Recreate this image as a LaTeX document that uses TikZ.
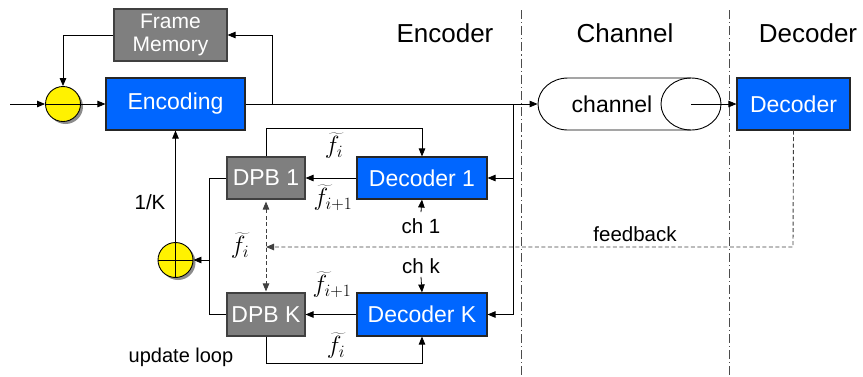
\documentclass[tikz,border=0pt]{standalone}
\usepackage{fontspec}
\setmainfont{Liberation Sans}
\usetikzlibrary{arrows.meta,shadows}
\definecolor{boxblue}{HTML}{0066FF}
\definecolor{boxgray}{HTML}{7F7F7F}
\definecolor{dashgray}{HTML}{404040}
\begin{document}
\begin{tikzpicture}[x=1pt,y=-1pt,
  >={Triangle[length=8pt,width=6.5pt]},
  line width=0.8pt,
  blk/.style={inner sep=0pt, text=white, line width=1.1pt},
  bluebox/.style={blk, draw=black!85, fill=boxblue, font=\fontsize{23}{26}\selectfont},
  graybox/.style={blk, draw=black!75, fill=boxgray, font=\fontsize{23}{26}\selectfont},
  sumnode/.style={circle, draw=black, fill=yellow, line width=0.9pt, minimum size=35pt, inner sep=0pt,
    drop shadow={shadow xshift=2.5pt, shadow yshift=-2.5pt, opacity=0.45, fill=black}},
  title/.style={font=\fontsize{26}{30}\selectfont},
  lbl/.style={font=\fontsize{20.5}{24}\selectfont, inner sep=1pt},
  mlbl/.style={font=\fontsize{25}{28}\selectfont, inner sep=0pt},
  sep/.style={draw=black!70, line width=0.8pt, dash pattern=on 9pt off 3pt on 1.2pt off 3pt},
  fb/.style={draw=dashgray, line width=0.9pt, dash pattern=on 4pt off 2.5pt},
]
\useasboundingbox (0,0) rectangle (863,376);

% separators between the three sections
\draw[sep] (521,10) -- (521,376);
\draw[sep] (729,10) -- (729,376);

% section titles
\node[title] (tenc) at (445,33) {Encoder};
\node[title] (tch)  at (625,33) {Channel};
\node[title] (tdec) at (808,33) {Decoder};

% encoder blocks
\node[graybox, minimum width=113pt, minimum height=52pt, align=center,
      font=\fontsize{21}{23}\selectfont] (fm) at (170.5,35) {Frame\\Memory};
\node[bluebox, minimum width=139pt, minimum height=52pt] (enc) at (175.5,104) {Encoding};
\node[sumnode] (sub) at (63,104) {};
\draw[line width=0.9pt] (sub.west) -- (sub.east);

\node[graybox, minimum width=78pt, minimum height=42pt] (dpb1) at (266,178) {DPB 1};
\node[bluebox, minimum width=130pt, minimum height=42pt] (dec1) at (422,178) {Decoder 1};
\node[graybox, minimum width=78pt, minimum height=43pt] (dpbk) at (266,314.5) {DPB K};
\node[bluebox, minimum width=130pt, minimum height=43pt] (deck) at (422,314.5) {Decoder K};

\node[sumnode] (add) at (175.5,260) {};
\draw[line width=0.9pt] (add.west) -- (add.east) (add.north) -- (add.south);

% channel (cylinder lying on its side)
\node[minimum width=183pt, minimum height=52pt, inner sep=0pt] (chan) at (629.5,104) {};
\coordinate (chc) at (691,104);
\draw[fill=white, line width=0.9pt] (691,78) -- (568,78)
  arc[start angle=-90, end angle=-270, x radius=30, y radius=26] -- (691,130);
\draw[line width=0.9pt] (chc) ellipse[x radius=30, y radius=26];
\node[font=\fontsize{23}{26}\selectfont] (chtxt) at (612,104) {channel};

% receiver
\node[bluebox, minimum width=113pt, minimum height=52pt] (dec) at (793.5,104) {Decoder};

% main signal path
\coordinate (in) at (10,104);
\draw[->] (in) -- (sub.west);
\draw[->] (sub.east) -- (enc.west);
\draw[->] (enc.east) -- (chan.west);
\draw[->] (chc) -- (dec.west);

% frame memory loop
\coordinate (br) at (272,104);
\draw[->] (br) |- (fm.east);
\draw[->] (fm.west) -| (sub.north);

% taps to the local decoders
\coordinate (tap) at (513,104);
\draw[->] (tap) |- (dec1.east);
\draw[->] (tap) |- (deck.east);
\draw[->] (dec1.west) -- (dpb1.east);
\draw[->] (deck.west) -- (dpbk.east);

% update loops
\draw[->] (dpb1.north) -- ++(0,-28) -| (dec1.north);
\draw[->] (dpbk.south) -- ++(0,27) -| (deck.south);

% averaging path
\coordinate (lj) at (210,260);
\draw (dpb1.west) -- ++(-17,0) |- (dpbk.west);
\draw[->] (lj) -- (add.east);
\draw[->] (add.north) -- (enc.south);
\node[lbl] (invk) at (150,202) {1/K};

% channel inputs
\node[lbl] (ch1) at (421,226) {ch 1};
\draw[->] ([yshift=5pt]ch1.north) -- (dec1.south);
\node[lbl] (chk) at (421,266) {ch k};
\draw[->] ([yshift=-2pt]chk.south) -- (deck.north);

% feedback from the remote decoder
\draw[<->, draw=dashgray, line width=0.9pt, dash pattern=on 4pt off 2.5pt, shorten <=2pt, shorten >=1pt]
  (dpb1.south) -- (dpbk.north);
\coordinate (fbc) at (793,247);
\coordinate (fbend) at (266,247);
\draw[fb, ->] (dec.south) -- (fbc) -- (fbend);
\node[lbl] (fblbl) at (635,234) {feedback};

% frame estimates
\node[mlbl] (f1a) at (334,146) {$\widetilde{f}_{i}$};
\node[mlbl] (f1b) at (333,198) {$\widetilde{f}_{i+1}$};
\node[mlbl] (fm1) at (240,246) {$\widetilde{f}_{i}$};
\node[mlbl] (fkb) at (332,285) {$\widetilde{f}_{i+1}$};
\node[mlbl] (fka) at (336,346) {$\widetilde{f}_{i}$};

\node[lbl, font=\fontsize{20}{24}\selectfont] (upd) at (181,357) {update loop};
\end{tikzpicture}
\end{document}
